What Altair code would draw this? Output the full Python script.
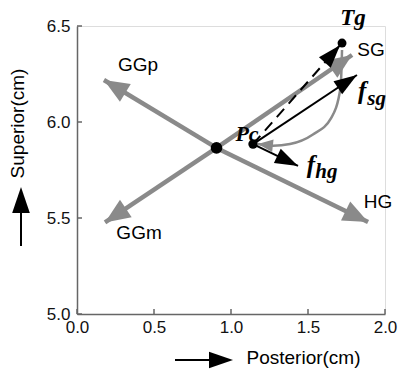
import altair as alt
import pandas as pd
import numpy as np

W, H = 308, 288
XD = [0, 2]
YD = [5, 6.5]
PX = W / (XD[1] - XD[0])
PY = H / (YD[1] - YD[0])

# key points
center_x, center_y = 0.906, 5.865
pc_x, pc_y = 1.143, 5.885
tg_x, tg_y = 1.721, 6.411

# gray muscle arrows from the centre point
gray_names = ["GGp", "GGm", "HG", "SG"]
gray_tip_x = [0.175, 0.182, 1.890, 1.786]
gray_tip_y = [6.219, 5.477, 5.479, 6.349]

# black force arrows from Pc
black_names = ["fsg", "fhg"]
black_tip_x = [1.818, 1.435]
black_tip_y = [6.245, 5.771]

# dashed arrow Pc -> Tg
dash_tip_x, dash_tip_y = 1.708, 6.400

# gray trajectory curve (ends at Pc)
curve_x = [1.721, 1.712, 1.650, 1.532, 1.383, 1.273, 1.175]
curve_y = [6.375, 6.182, 6.020, 5.935, 5.885, 5.876, 5.885]

# labels
sans_text = ["GGp", "GGm", "SG", "HG"]
sans_x = [0.396, 0.403, 1.909, 1.955]
sans_y = [6.297, 5.422, 6.375, 5.583]

serif_text = ["Tg", "Pc", "f", "f"]
serif_x = [1.792, 1.104, 1.851, 1.519]
serif_y = [6.505, 5.901, 6.120, 5.734]
serif_fs = [23, 22, 25, 25]

sub_text = ["sg", "hg"]
sub_x = [1.885, 1.547]
sub_y = [6.089, 5.708]
sub_fs = [21, 21]

x_ticks = [0, 0.5, 1.0, 1.5, 2.0]
y_ticks = [5.0, 5.5, 6.0, 6.5]

GRAY = "#8a8a8a"
AXC = "#666666"
HEAD_G = "M0,0L0.42,1L-0.42,1Z"
HEAD_B = "M0,0L0.34,1L-0.34,1Z"


def ang(x0, y0, x1, y1):
    a = np.degrees(np.arctan2((np.asarray(x1) - x0) * PX, (np.asarray(y1) - y0) * PY))
    return (a + 360) % 360


xs = alt.Scale(domain=XD, nice=False, zero=False)
ys = alt.Scale(domain=YD, nice=False, zero=False)

xaxis = alt.Axis(values=x_ticks, format=".1f", ticks=False, grid=False,
                 domainColor=AXC, domainWidth=1.5, labelFont="Liberation Sans",
                 labelFontSize=17, labelColor="#111", labelPadding=5,
                 labelFlush=False, labelOverlap=False,
                 title="Posterior(cm)", titleFont="Liberation Sans", titleFontSize=19,
                 titleFontWeight="normal", titleColor="black", titleX=226, titleY=43,
                 titleAlign="center", titleBaseline="middle")
yaxis = alt.Axis(values=y_ticks, format=".1f", ticks=False, grid=False,
                 domainColor=AXC, domainWidth=1.5, labelFont="Liberation Sans",
                 labelFontSize=17, labelColor="#111", labelPadding=7,
                 labelFlush=False, labelOverlap=False,
                 title="Superior(cm)", titleFont="Liberation Sans", titleFontSize=19,
                 titleFontWeight="normal", titleColor="black", titleAngle=270,
                 titleX=-60, titleY=97, titleAlign="center", titleBaseline="middle")


def X(f):
    return alt.X(f, type="quantitative", scale=xs, axis=xaxis)


def Y(f):
    return alt.Y(f, type="quantitative", scale=ys, axis=yaxis)


def X2(f):
    return alt.X2(f)


def Y2(f):
    return alt.Y2(f)


gray_df = pd.DataFrame({
    "x": center_x, "y": center_y, "x2": gray_tip_x, "y2": gray_tip_y,
    "ang": ang(center_x, center_y, gray_tip_x, gray_tip_y),
})
black_df = pd.DataFrame({
    "x": pc_x, "y": pc_y, "x2": black_tip_x, "y2": black_tip_y,
    "ang": ang(pc_x, pc_y, black_tip_x, black_tip_y),
})
dash_df = pd.DataFrame({
    "x": [pc_x], "y": [pc_y], "x2": [dash_tip_x], "y2": [dash_tip_y],
    "ang": [float(ang(pc_x, pc_y, dash_tip_x, dash_tip_y))],
})
curve_df = pd.DataFrame({"x": curve_x, "y": curve_y, "i": range(len(curve_x))})
curve_head = pd.DataFrame({
    "x": [curve_x[-1]], "y": [curve_y[-1]],
    "ang": [float(ang(curve_x[-2], curve_y[-2], curve_x[-1], curve_y[-1]))],
})
dots_df = pd.DataFrame({"x": [center_x, pc_x, tg_x], "y": [center_y, pc_y, tg_y],
                        "s": [135, 88, 80]})

xt_df = pd.DataFrame({"t": x_ticks})
yt_df = pd.DataFrame({"t": y_ticks})
one = pd.DataFrame({"a": [0]})

layers = []
# axis ticks (inward)
layers.append(alt.Chart(xt_df).mark_rule(color=AXC, strokeWidth=1.5).encode(
    x=X("t"), y=alt.value(H), y2=alt.value(H - 5)))
layers.append(alt.Chart(yt_df).mark_rule(color=AXC, strokeWidth=1.5).encode(
    y=Y("t"), x=alt.value(0), x2=alt.value(5)))

# gray arrows
layers.append(alt.Chart(gray_df).mark_rule(color=GRAY, strokeWidth=4.5).encode(
    x=X("x"), y=Y("y"), x2=X2("x2"), y2=Y2("y2")))
layers.append(alt.Chart(gray_df).mark_point(shape=HEAD_G, filled=True, color=GRAY,
                                            opacity=1, size=2500, strokeWidth=0).encode(
    x=X("x2"), y=Y("y2"), angle=alt.Angle("ang:Q", scale=None)))

# gray curve
layers.append(alt.Chart(curve_df).mark_line(color=GRAY, strokeWidth=2.5,
                                            interpolate="monotone").encode(
    x=X("x"), y=Y("y"), order="i:Q"))
layers.append(alt.Chart(curve_head).mark_point(shape=HEAD_G, filled=True, color=GRAY,
                                               opacity=1, size=900, strokeWidth=0).encode(
    x=X("x"), y=Y("y"), angle=alt.Angle("ang:Q", scale=None)))

# black arrows
layers.append(alt.Chart(black_df).mark_rule(color="black", strokeWidth=2).encode(
    x=X("x"), y=Y("y"), x2=X2("x2"), y2=Y2("y2")))
layers.append(alt.Chart(black_df).mark_point(shape=HEAD_B, filled=True, color="black",
                                             opacity=1, size=2116, strokeWidth=0).encode(
    x=X("x2"), y=Y("y2"), angle=alt.Angle("ang:Q", scale=None)))
layers.append(alt.Chart(dash_df).mark_rule(color="black", strokeWidth=2,
                                           strokeDash=[11, 7]).encode(
    x=X("x"), y=Y("y"), x2=X2("x2"), y2=Y2("y2")))
layers.append(alt.Chart(dash_df).mark_point(shape=HEAD_B, filled=True, color="black",
                                            opacity=1, size=2116, strokeWidth=0).encode(
    x=X("x2"), y=Y("y2"), angle=alt.Angle("ang:Q", scale=None)))

# dots
layers.append(alt.Chart(dots_df).mark_circle(color="black", opacity=1).encode(
    x=X("x"), y=Y("y"), size=alt.Size("s:Q", scale=None)))

# labels
sans_df = pd.DataFrame({"x": sans_x, "y": sans_y, "t": sans_text})
layers.append(alt.Chart(sans_df).mark_text(font="Liberation Sans", fontSize=19,
                                           color="black", align="center",
                                           baseline="middle").encode(
    x=X("x"), y=Y("y"), text="t:N"))
serif_df = pd.DataFrame({"x": serif_x, "y": serif_y, "t": serif_text, "fs": serif_fs})
layers.append(alt.Chart(serif_df).mark_text(font="Liberation Serif", fontStyle="italic",
                                            fontWeight="bold", color="black",
                                            align="center", baseline="alphabetic").encode(
    x=X("x"), y=Y("y"), text="t:N", size=alt.Size("fs:Q", scale=None)))
sub_df = pd.DataFrame({"x": sub_x, "y": sub_y, "t": sub_text, "fs": sub_fs})
layers.append(alt.Chart(sub_df).mark_text(font="Liberation Serif", fontStyle="italic",
                                          fontWeight="bold", color="black",
                                          align="left", baseline="alphabetic").encode(
    x=X("x"), y=Y("y"), text="t:N", size=alt.Size("fs:Q", scale=None)))

# axis-title direction arrows (decoration)
layers.append(alt.Chart(one).mark_rule(color="black", strokeWidth=2).encode(
    x=alt.value(-56), y=alt.value(220), y2=alt.value(185)))
layers.append(alt.Chart(one).mark_point(shape=HEAD_B, filled=True, color="black",
                                        opacity=1, size=2704, strokeWidth=0).encode(
    x=alt.value(-56), y=alt.value(161), angle=alt.value(0)))
layers.append(alt.Chart(one).mark_rule(color="black", strokeWidth=2).encode(
    x=alt.value(98), x2=alt.value(134), y=alt.value(334)))
layers.append(alt.Chart(one).mark_point(shape=HEAD_B, filled=True, color="black",
                                        opacity=1, size=2304, strokeWidth=0).encode(
    x=alt.value(156), y=alt.value(334), angle=alt.value(90)))

chart = alt.layer(*layers).properties(
    width=W, height=H,
    autosize=alt.AutoSizeParams(type="none"),
    padding={"left": 77, "top": 26, "right": 13, "bottom": 55},
).configure_view(stroke=None).configure(background="white")

chart.save("out.html", embed_options={"renderer": "svg", "actions": False})
